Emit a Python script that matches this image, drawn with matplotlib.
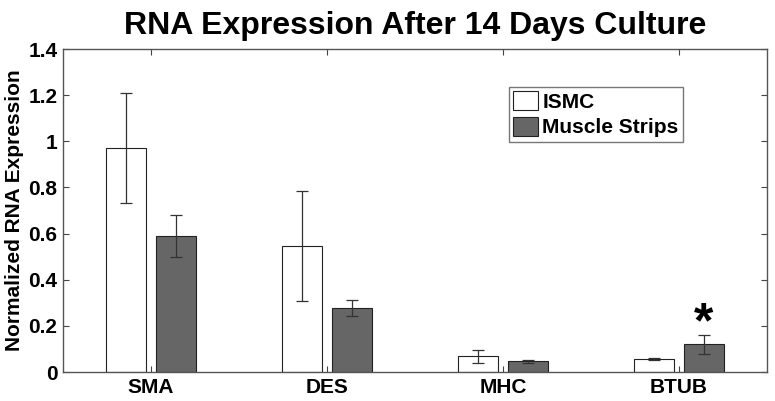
import matplotlib
matplotlib.use('Agg')
import matplotlib.pyplot as plt
import numpy as np

plt.rcParams['font.family'] = ['Liberation Sans', 'DejaVu Sans']

## datos
genes = ['SMA', 'DES', 'MHC', 'BTUB']
ismc = [0.971, 0.546, 0.068, 0.055]
ismc_err = [0.240, 0.237, 0.029, 0.005]
strips = [0.591, 0.277, 0.046, 0.120]
strips_err = [0.091, 0.035, 0.008, 0.040]
signif = [False, False, False, True]

x = np.arange(1, len(genes) + 1)
w = 0.227
off = 0.142

fig = plt.figure(figsize=(7.75, 4.01), dpi=100)
ax = fig.add_axes([0.0813, 0.0723, 0.9084, 0.8055])

ax.bar(x - off, ismc, w, color='white', edgecolor='#222222', linewidth=0.8, label='ISMC')
ax.bar(x + off, strips, w, color='#666666', edgecolor='#222222', linewidth=0.8, label='Muscle Strips')
ax.errorbar(x - off, ismc, yerr=ismc_err, fmt='none', ecolor='#333333', elinewidth=0.9, capsize=4.5, capthick=0.9)
ax.errorbar(x + off, strips, yerr=strips_err, fmt='none', ecolor='#333333', elinewidth=0.9, capsize=4.5, capthick=0.9)

## asterisco de significancia
for i in range(len(genes)):
    if signif[i]:
        ax.text(x[i] + off, strips[i] + strips_err[i] + 0.045, '*', ha='center', va='center',
                fontsize=36, fontweight='bold')

ax.set_xlim(0.5, 4.5)
ax.set_ylim(0, 1.4)
ax.set_xticks(x)
ax.set_xticklabels(genes, fontsize=15, fontweight='bold')
ax.set_yticks(np.arange(0, 1.41, 0.2))
ax.set_yticklabels(['0', '0.2', '0.4', '0.6', '0.8', '1', '1.2', '1.4'], fontsize=15, fontweight='bold')
ax.tick_params(direction='in', length=4.5, width=0.8, color='#444444', top=True, right=True, pad=4)

for axis in ['top', 'bottom', 'left', 'right']:
    ax.spines[axis].set_linewidth(1)
    ax.spines[axis].set_color('#555555')

ax.set_ylabel('Normalized RNA Expression', fontsize=15, fontweight='bold', labelpad=3)
ax.set_title('RNA Expression After 14 Days Culture', fontsize=23, fontweight='bold', pad=11)

leg = ax.legend(loc='upper left', bbox_to_anchor=(0.6335, 0.882), prop={'weight': 'bold', 'size': 15},
                frameon=True, fancybox=False, handlelength=1.2, handleheight=1.0, handletextpad=0.2,
                borderpad=0.2, labelspacing=0.25, borderaxespad=0)
leg.get_frame().set_edgecolor('#555555')
leg.get_frame().set_linewidth(1)

plt.savefig('out.png', dpi=100)
